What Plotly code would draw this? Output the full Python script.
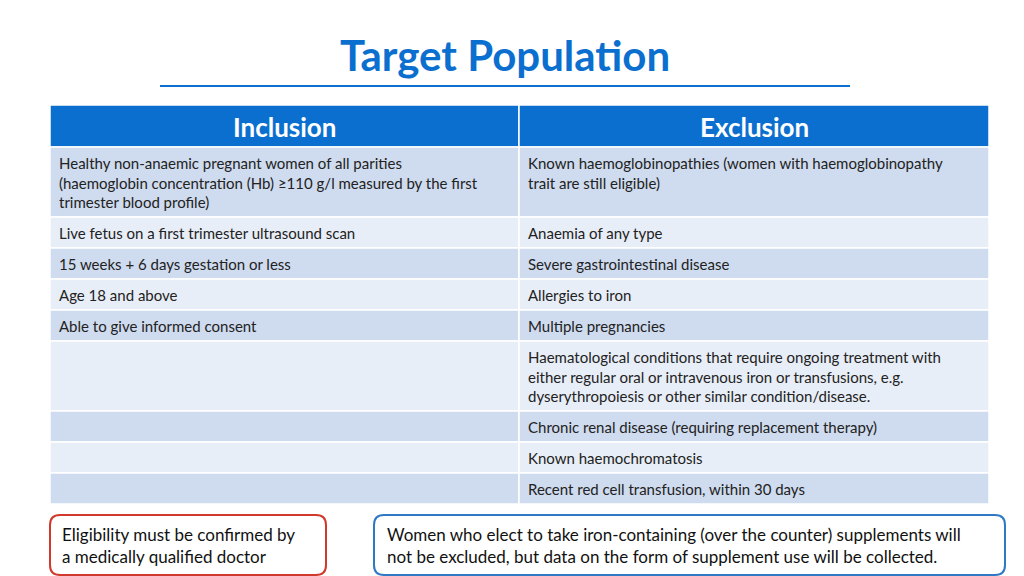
import plotly.graph_objects as go

title = "Target Population"
headers = ["Inclusion", "Exclusion"]
inclusion = [
    "Healthy non-anaemic pregnant women of all parities<br>(haemoglobin concentration (Hb) ≥110 g/l measured by the first<br>trimester blood profile)",
    "Live fetus on a first trimester ultrasound scan",
    "15 weeks + 6 days gestation or less",
    "Age 18 and above",
    "Able to give informed consent",
    "", "", "", "",
]
exclusion = [
    "Known haemoglobinopathies (women with haemoglobinopathy<br>trait are still eligible)",
    "Anaemia of any type",
    "Severe gastrointestinal disease",
    "Allergies to iron",
    "Multiple pregnancies",
    "Haematological conditions that require ongoing treatment with<br>either regular oral or intravenous iron or transfusions, e.g.<br>dyserythropoiesis or other similar condition/disease.",
    "Chronic renal disease (requiring replacement therapy)",
    "Known haemochromatosis",
    "Recent red cell transfusion, within 30 days",
]
note_left = "Eligibility must be confirmed by<br>a medically qualified doctor"
note_right = ("Women who elect to take iron-containing (over the counter) supplements will<br>"
              "not be excluded, but data on the form of supplement use will be collected.")
page = "8"

# layout geometry (pixels)
row_edges = [139, 209, 240, 271, 302, 333, 403, 434, 465, 496]
X0, XM, X1 = 42, 511, 981
BLUE = "#0b6fcf"
FONT = "Lato"

fig = go.Figure()
shapes, ann = [], []

def rrect(x0, y0, x1, y1, r, color):
    p = (f"M{x0+r},{y0} L{x1-r},{y0} Q{x1},{y0} {x1},{y0+r} L{x1},{y1-r} Q{x1},{y1} {x1-r},{y1} "
         f"L{x0+r},{y1} Q{x0},{y1} {x0},{y1-r} L{x0},{y0+r} Q{x0},{y0} {x0+r},{y0} Z")
    return dict(type="path", path=p, xref="x", yref="y", line=dict(color=color, width=2), fillcolor="white")

ann.append(dict(x=497, y=47, text=f"<b>{title}</b>", showarrow=False, xref="x", yref="y",
                font=dict(family=FONT, size=42, color=BLUE)))
shapes.append(dict(type="line", x0=152, x1=842, y0=78, y1=78, xref="x", yref="y",
                   line=dict(color=BLUE, width=2)))

# header
for i, (a, b) in enumerate([(X0, XM), (XM, X1)]):
    shapes.append(dict(type="rect", x0=a, x1=b, y0=97, y1=row_edges[0], xref="x", yref="y",
                       fillcolor=BLUE, line=dict(color="white", width=1.5)))
    ann.append(dict(x=(a + b) / 2, y=119, text=f"<b>{headers[i]}</b>", showarrow=False,
                    xref="x", yref="y", font=dict(family=FONT, size=26, color="white")))

# body
for r in range(len(inclusion)):
    y0, y1 = row_edges[r], row_edges[r + 1]
    fill = "#cfdbee" if r % 2 == 0 else "#e8eef7"
    for c, (a, b) in enumerate([(X0, XM), (XM, X1)]):
        shapes.append(dict(type="rect", x0=a, x1=b, y0=y0, y1=y1, xref="x", yref="y",
                           fillcolor=fill, line=dict(color="white", width=1.5)))
        txt = [inclusion, exclusion][c][r]
        if txt:
            ann.append(dict(x=a + 7, y=y0 + 5, text=txt, showarrow=False, xref="x", yref="y",
                            xanchor="left", yanchor="top", align="left",
                            font=dict(family=FONT, size=15, color="#222222")))

# notes
shapes.append(rrect(42, 507, 318, 567, 10, "#d0392b"))
shapes.append(rrect(366, 507, 997, 567, 10, "#2f78c4"))
ann.append(dict(x=52, y=537, text=note_left, showarrow=False, xref="x", yref="y", xanchor="left",
                align="left", font=dict(family=FONT, size=17, color="#111111")))
ann.append(dict(x=377, y=537, text=note_right, showarrow=False, xref="x", yref="y", xanchor="left",
                align="left", font=dict(family=FONT, size=17, color="#111111")))
ann.append(dict(x=1012, y=549, text=page, showarrow=False, xref="x", yref="y",
                font=dict(family=FONT, size=11, color="#777777")))

fig.update_layout(width=1024, height=576, margin=dict(l=0, r=0, t=0, b=0),
                  plot_bgcolor="white", paper_bgcolor="white", shapes=shapes, annotations=ann,
                  xaxis=dict(range=[0, 1024], visible=False, fixedrange=True),
                  yaxis=dict(range=[576, 0], visible=False, fixedrange=True))
fig.write_html("out.html")
